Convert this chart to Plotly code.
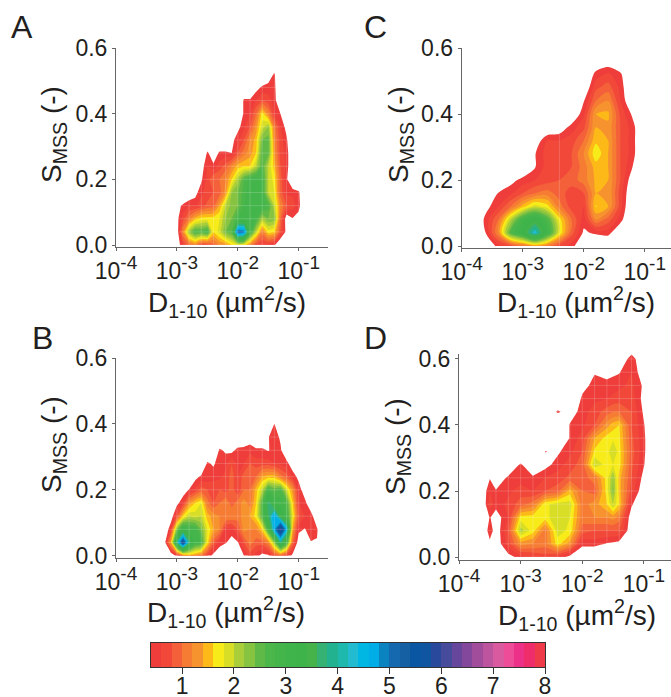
import plotly.graph_objects as go

log_d_coarse = [-3.8,-3.6,-3.4,-3.2,-3.0,-2.8,-2.6,-2.4,-2.2,-2.0,-1.8,-1.6,-1.4,-1.2,-1.0,-0.8,-0.6]
log_d_fine = [round(-3.3+0.1*i, 1) for i in range(30)]
log_d_panel_d = [-3.8,-3.6,-3.5,-3.4,-3.2,-3.0,-2.8,-2.6,-2.4,-2.2,-2.0,-1.8,-1.6,-1.5,-1.4,-1.2,-1.0,-0.8,-0.6]
s_vals = [0,.04,.08,.12,.16,.20,.24,.28,.32,.36,.40,.44,.48,.52,.56,.60,.64]

levels = [0.4+0.2*i for i in range(38)]
band_colors = ["#EE3D3A","#F1483A","#F4603A","#F67B33","#F7932E","#FDB918","#F7EC1A","#D8DE26","#AACE3A","#86C340",
"#5FB946","#4BB74A","#44B54B","#3FB44A","#3DB34A","#45B34A","#35B273","#22B28F","#1FB8AD","#22BBD0",
"#00B7E3","#00ADE7","#0A83C0","#1569AE","#155FA3","#0B56A2","#0F55A0","#29499C","#474B9C","#67479C",
"#83489C","#A14D9C","#BC559D","#DA5AA0","#EE4C98","#EE3188","#EF2D6A","#EF3A4A"]

# panel A and B: each row is (log10 D of first value, values every 0.1 decade); one row per s_vals entry
rows_a = [
(-3.0,[.2,.6,1.0,1.2,.7,.7,.9,1.2,1.3,1.6,1.8,1.7,1.2,.7,.6,.55,.45]),
(-3.0,[.2,1.2,2.2,2.7,2.6,2.8,1.6,1.9,2.4,2.6,5.0,4.8,2.9,2.0,1.1,1.7,1.6,.8,.3]),
(-3.0,[.3,.7,1.1,1.5,1.7,1.7,1.7,1.8,2.2,2.4,2.8,3.0,3.0,2.8,2.1,2.4,2.3,1.0,.2,.38,.3]),
(-3.0,[.3,.45,.6,.55,.7,.85,.9,1.4,2.0,2.3,2.4,2.8,3.0,3.0,3.0,2.7,2.0,1.2,.8,.7,.48,.1]),
(-2.8,[.1,.3,.55,.7,.8,.9,1.3,2.2,2.4,2.7,3.0,3.0,2.8,2.0,1.8,.9,.55,.55,.45]),
(-2.6,[.35,.7,1.0,1.0,1.2,1.6,2.1,2.6,2.9,3.0,2.8,2.0,1.7,.9,.45]),
(-2.6,[.25,.6,.45,.7,.9,1.2,1.5,1.6,1.6,2.0,2.6,2.0,1.5,.8,.55]),
(-2.5,[.45,.2,.45,.45,.4,.8,1.1,1.3,1.6,2.6,2.5,1.3,.7,.55]),
(-2.1,[.3,.55,.8,1.2,1.5,2.4,2.5,1.2,.7,.45]),
(-2.0,[.3,.55,.8,1.3,1.9,2.2,1.1,.6,.3]),
(-1.9,[.45,.6,1.0,1.7,1.2,.6,.4]),
(-1.9,[.45,.45,.6,.8,.7,.5,.1]),
(-1.7,[.3,.45,.5,.48]),
(-1.5,[.2,.44]),
]

rows_b = [
(-3.1,[.1,.5,1.2,1.4,1.3,1.1,.6,.3,.2,.1,.1,.2,.4,.7,.5,.3,.35,.8,1.0,.7,.3]),
(-3.2,[.3,1.4,3.8,5.6,3.8,2.9,2.8,1.7,.9,.5,.42,.3,.38,.8,1.1,.9,.9,1.2,2.2,3.8,2.8,1.0,.2,0,.38,.38]),
(-3.2,[.1,.6,2.3,3.2,2.9,2.9,2.4,1.8,1.4,1.2,.55,.5,.8,1.3,1.2,1.2,1.6,2.8,4.5,6.0,4.4,1.4,.48,.38,.6,.44]),
(-3.1,[.2,.8,1.6,2.0,1.9,2.0,1.5,1.3,1.2,1.2,1.2,1.1,1.3,1.4,1.7,2.6,3.6,4.6,3.4,2.9,1.8,.8,.6,.55,.1]),
(-3.0,[.3,.6,1.3,1.6,1.8,1.1,.8,1.0,1.2,.9,1.1,1.3,1.1,1.6,2.6,3.8,3.0,2.9,2.7,1.6,.6,.5,.1]),
(-2.9,[.2,.42,.65,.9,.8,.7,.8,.7,.9,.6,1.0,1.0,1.5,2.0,2.8,2.5,2.7,1.9,1.3,.55,.2]),
(-2.7,[.3,.45,.45,.55,.55,.65,.9,.6,.9,.9,1.0,1.4,1.5,1.5,1.1,.9,.55,.3]),
(-2.5,[.45,.35,.55,.55,.8,.55,.6,.8,.7,.7,.7,.6,.55,.5,.2]),
(-2.3,[.45,.35,.3,.5,.5,.55,.45,.45,.38,.5,.45,.1]),
(-1.9,[.1,.2,.1,.1,.38,.55,.35]),
(-1.4,[.41]),
]

z_c = [
[0,.1,.5,.7,1.0,1.3,1.1,.7,.5,.1,0,0,0,0,0,0,0],
[0,.42,1.2,2.6,3.2,4.2,3.0,1.8,.9,.35,.45,.5,.1,0,0,0,0],
[0,.5,1.0,2.0,2.9,3.3,2.7,1.7,1.0,.5,1.2,.9,.5,0,0,0,0],
[0,.3,.6,1.0,1.5,1.9,1.7,1.1,.7,.6,1.62,1.4,.7,0,0,0,0],
[0,0,.42,.55,.8,1.0,1.1,.9,.7,.8,1.4,1.4,.7,.1,0,0,0],
[0,0,0,.3,.48,.6,.7,.8,.9,1.1,1.45,1.4,.8,.2,0,0,0],
[0,0,0,0,.1,.38,.7,.6,.8,1.1,1.5,1.4,.8,.4,0,0,0],
[0,0,0,0,0,.38,.7,.65,.8,1.2,1.75,1.4,.8,.5,0,0,0],
[0,0,0,0,0,.2,.6,.6,.7,1.0,1.55,1.4,.8,.5,0,0,0],
[0,0,0,0,0,0,.1,.2,.5,.75,1.4,1.35,.8,.5,0,0,0],
[0,0,0,0,0,0,0,0,.1,.55,1.4,1.45,.75,.35,0,0,0],
[0,0,0,0,0,0,0,0,0,.38,1.0,1.2,.6,.1,0,0,0],
[0,0,0,0,0,0,0,0,0,.1,.75,.9,.55,0,0,0,0],
[0,0,0,0,0,0,0,0,0,0,.5,.65,.45,0,0,0,0],
[0,0,0,0,0,0,0,0,0,0,.1,.2,.1,0,0,0,0],
[0,0,0,0,0,0,0,0,0,0,0,0,0,0,0,0,0],
[0,0,0,0,0,0,0,0,0,0,0,0,0,0,0,0,0],
]

# columns follow log_d_panel_d
z_d = [
[0,0,0,0,.3,.5,.6,.7,.55,.3,.2,0,0,0,0,0,0,0,0],
[0,0,.3,.2,.7,1.3,1.2,1.1,1.7,1.3,.45,.5,.38,.35,.3,0,0,0,0],
[0,.1,.6,.2,.8,2.1,1.7,1.1,1.9,1.75,.9,.8,.8,.8,.8,.2,0,0,0],
[0,.1,.42,.25,.6,1.7,1.7,1.7,2.0,1.8,1.1,1.2,1.2,1.3,1.1,.2,0,0,0],
[0,.25,.7,.5,.65,.9,1.1,1.75,1.9,1.9,1.1,1.3,1.6,2.0,1.6,.45,0,0,0],
[0,.25,.6,.42,.55,.7,.6,.8,.9,1.5,1.0,.9,1.7,2.3,1.5,.7,.2,0,0],
[0,0,.38,.2,.45,.5,.45,.6,.7,.85,.9,1.1,1.7,2.2,1.5,.8,.3,0,0],
[0,0,0,0,.1,.44,.1,.3,.5,.7,.9,2.0,1.7,1.8,1.7,.85,.42,0,0],
[0,0,0,0,0,0,0,.41,.35,.55,.8,1.65,1.7,2.0,1.7,.9,.45,0,0],
[0,0,0,0,0,0,0,0,0,.42,.7,1.4,1.7,1.75,1.65,.85,.45,0,0],
[0,0,0,0,0,0,0,0,0,.42,.55,.8,1.3,1.5,1.6,.8,.42,0,0],
[0,0,0,0,0,0,0,0,.45,.25,.5,.7,.9,1.0,1.0,.8,.35,0,0],
[0,0,0,0,0,0,0,0,0,0,.45,.55,.6,.65,.7,.7,.3,0,0],
[0,0,0,0,0,0,0,0,0,0,.3,.48,.48,.5,.55,.65,.35,0,0],
[0,0,0,0,0,0,0,0,0,0,0,.38,.3,.35,.38,.6,.2,0,0],
[0,0,0,0,0,0,0,0,0,0,0,0,0,0,0,.6,0,0,0],
[0,0,0,0,0,0,0,0,0,0,0,0,0,0,0,0,0,0,0],
]

def to_grid(rows):
    z = []
    for start, vals in rows:
        row = [0.0]*len(log_d_fine)
        i0 = log_d_fine.index(start)
        row[i0:i0+len(vals)] = vals
        z.append(row)
    while len(z) < len(s_vals):
        z.append([0.0]*len(log_d_fine))
    return z

W, H = 671, 697
all_cols = ["#FFFFFF"] + band_colors + [band_colors[-1]]
n = len(all_cols)
stops = []
for i, c in enumerate(all_cols):
    stops += [[i/n, c], [(i+1)/n, c]]

fig = go.Figure()
panels = [
    ("A", to_grid(rows_a), log_d_fine, (116, 328), (48, 247), [-4, -0.52], [-0.006, 0.6], 0),
    ("B", to_grid(rows_b), log_d_fine, (116, 328), (358, 558), [-4, -0.52], [-0.007, 0.6], 0),
    ("C", z_c, log_d_coarse, (461.7, 671), (48, 248), [-4, -0.57], [-0.006, 0.6], 0.9),
    ("D", z_d, log_d_panel_d, (459, 671), (354, 560), [-4, -0.56], [-0.009, 0.615], 0),
]
exps = [-4, -3, -2, -1]
tick_x = [10.0**e for e in exps]
tick_t = [f'10<sup><span style="font-size:19px">{e}</span></sup>' for e in exps]
FONT = "Liberation Sans"
LINE = "#666666"
INK = "#231F20"
MESH = "rgba(255,255,255,0.18)"
layout_axes = {}
for i, (name, z, cols, xp, yp, xr, yr, smooth) in enumerate(panels):
    k = "" if i == 0 else str(i+1)
    fig.add_trace(go.Contour(
        x=[10**e for e in cols], y=s_vals, z=z, xaxis="x"+k, yaxis="y"+k,
        colorscale=stops, zmin=0.2, zmax=8.2, showscale=False, autocontour=False, hoverinfo="skip",
        contours=dict(start=0.2, end=8.0, size=0.2, coloring="fill", showlines=False),
        line=dict(width=0, smoothing=smooth),
    ))
    # faint seams between the grid cells of the density map
    mx, my = [], []
    seam_cols = [-2.4] if name == "C" else log_d_coarse
    for e in seam_cols:
        mx += [10**e, 10**e, None]
        my += [0, s_vals[-1] if name != "C" else 0.34, None]
    if name != "C":
        for s in s_vals:
            mx += [10**log_d_coarse[0], 10**log_d_coarse[-1], None]
            my += [s, s, None]
    fig.add_trace(go.Scatter(x=mx, y=my, mode="lines", line=dict(color=MESH, width=1),
                             hoverinfo="skip", xaxis="x"+k, yaxis="y"+k))
    layout_axes["xaxis"+k] = dict(
        type="log", range=xr, domain=[xp[0]/W, xp[1]/W], anchor="y"+k, automargin=False,
        tickmode="array", tickvals=tick_x, ticktext=tick_t,
        showgrid=False, zeroline=False, showline=True, linecolor=LINE, linewidth=1,
        ticks="outside", ticklen=3, tickcolor=LINE, tickfont=dict(size=23, family=FONT, color=INK),
    )
    layout_axes["yaxis"+k] = dict(
        range=yr, domain=[1-yp[1]/H, 1-yp[0]/H], anchor="x"+k, automargin=False,
        tickmode="array", tickvals=[0,.2,.4,.6], ticktext=["0.0","0.2","0.4","0.6"],
        showgrid=False, zeroline=False, showline=True, linecolor=LINE, linewidth=1,
        ticks="outside", ticklen=3, tickcolor=LINE, tickfont=dict(size=23, family=FONT, color=INK),
    )

# colour key
fig.add_trace(go.Heatmap(
    x=[l+0.1 for l in levels], y=[0], z=[[l+0.1 for l in levels]], xaxis="x5", yaxis="y5",
    colorscale=stops, zmin=0.2, zmax=8.2, showscale=False, hoverinfo="skip",
))
layout_axes["xaxis5"] = dict(
    range=[0.4, 8], domain=[151/W, 545/W], anchor="y5", automargin=False,
    tickmode="array", tickvals=list(range(1, 9)), showgrid=False, zeroline=False,
    showline=True, mirror=True, linecolor="#333333", linewidth=1,
    ticks="outside", ticklen=6, tickcolor="#333333", tickfont=dict(size=23, family=FONT, color=INK),
    ticklabelstandoff=-8,
)
layout_axes["yaxis5"] = dict(
    range=[-0.5, 0.5], domain=[1-667/H, 1-643/H], anchor="x5", automargin=False,
    showticklabels=False, ticks="", showgrid=False, zeroline=False,
    showline=True, mirror=True, linecolor="#333333", linewidth=1,
)

letters = [("A", 22, 27), ("C", 375, 27), ("B", 42, 338), ("D", 375, 338)]
annots = [dict(text=t, x=x/W, y=1-y/H, xref="paper", yref="paper", showarrow=False,
               xanchor="center", yanchor="middle", font=dict(size=32, family=FONT, color=INK))
          for t, x, y in letters]
x_title = "D<sub>1-10</sub> (µm<sup>2</sup>/s)"
y_title = "S<sub>MSS</sub> (-)"
for x, y in [(227, 302), (226, 612), (576, 302), (577, 615)]:
    annots.append(dict(text=x_title, x=x/W, y=1-y/H, xref="paper", yref="paper", showarrow=False,
                       xanchor="center", yanchor="middle", font=dict(size=28, family=FONT, color=INK)))
for x, y in [(53, 135), (53, 445), (400, 135), (397, 447)]:
    annots.append(dict(text=y_title, x=x/W, y=1-y/H, xref="paper", yref="paper", showarrow=False, textangle=-90,
                       xanchor="center", yanchor="middle", font=dict(size=28, family=FONT, color=INK)))

fig.update_layout(width=W, height=H, autosize=False, margin=dict(l=0, r=0, t=0, b=0, pad=0),
                  paper_bgcolor="white", plot_bgcolor="white", showlegend=False,
                  annotations=annots, **layout_axes)
fig.write_html("out.html", config=dict(displayModeBar=False),
               post_script="document.body.style.margin='0';")
